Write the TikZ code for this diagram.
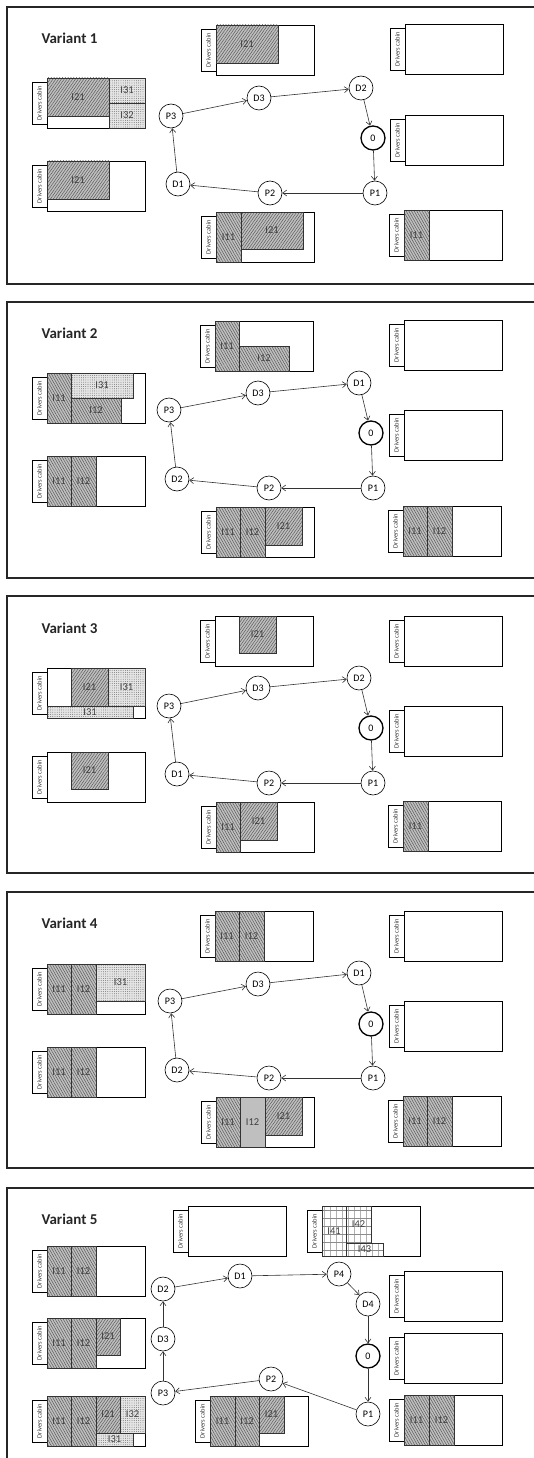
\documentclass[tikz,border=0pt]{standalone}
\usepackage{fontspec}
\setmainfont{Carlito}
\usetikzlibrary{patterns.meta, arrows.meta}

\newcommand{\truck}[4]{%
  \begin{scope}[shift={(#2,#3)}]
    \draw[body] (0,0) rectangle (98,50);
    \node[cabin] (#1) at (-7.5,25) {Drivers cabin};
    #4
  \end{scope}}
\newcommand{\cell}[7]{%
  \node[cellbox, #6, minimum width=#4pt, minimum height=#5pt] (#1) at (#2,#3) {#7};}

\begin{document}
\begin{tikzpicture}[x=1pt, y=-1pt,
    panel/.style={draw=black!85, line width=2pt},
    body/.style={draw=black, fill=white, line width=0.7pt},
    cabin/.style={draw=black, fill=white, line width=0.6pt, rotate=90,
                  minimum width=42pt, minimum height=15pt, inner sep=0pt,
                  font=\fontsize{6.5}{7}\selectfont, text=black!80},
    cellbox/.style={draw=black!80, line width=0.8pt, anchor=north west,
                    outer sep=0pt, inner sep=0pt,
                    font=\fontsize{10.5}{12}\selectfont, text=black!75},
    grpone/.style={preaction={fill=black!25},
                   pattern={Lines[angle=-60, distance=2.3pt, line width=0.5pt]},
                   pattern color=black!65},
    grptwo/.style={preaction={fill=black!25},
                   pattern={Lines[angle=55, distance=2.3pt, line width=0.5pt]},
                   pattern color=black!65},
    grpthree/.style={preaction={fill=black!10},
                     pattern={Dots[distance=2.2pt, radius=0.4pt]},
                     pattern color=black!70},
    grpfour/.style={preaction={fill=white},
                    preaction={pattern={Lines[angle=90, distance=6pt, line width=0.4pt]},
                               pattern color=black!30},
                    pattern={Lines[angle=0, distance=8pt, line width=0.4pt]},
                    pattern color=black!45},
    grpflat/.style={fill=black!25},
    variant/.style={anchor=west, font=\bfseries\fontsize{15}{18}\selectfont, text=black!85},
    stopnode/.style={circle, draw=black, fill=white, line width=0.6pt,
                     minimum size=24pt, inner sep=0pt, font=\fontsize{10}{12}\selectfont},
    depot/.style={stopnode, line width=1.3pt},
    arrow/.style={->, >={Straight Barb[length=4pt, width=6pt]}, draw=black!80, line width=0.6pt}
]
\useasboundingbox (0,0) rectangle (534,1458);

\foreach \top/\bot in {7/284, 302/578, 596/873, 892/1168}
  \draw[panel] (534,\top) -- (7,\top) -- (7,\bot) -- (534,\bot);
\draw[panel] (534,1188) -- (7,1188) -- (7,1458);

% Variant 1
\begin{scope}[shift={(0,7)}, name prefix=v1-]
\node[variant] (title) at (38,31) {Variant 1};
\truck{tm}{216}{18}{\cell{tm-i21}{0}{0}{62}{38}{grptwo}{I21}}
\truck{tr}{405}{17}{}
\truck{tl}{47}{71}{\cell{tl-i21}{0}{0}{62}{38}{grptwo}{I21}
  \cell{tl-i31}{62}{0}{36}{25}{grpthree}{I31}\cell{tl-i32}{62}{25}{36}{25}{grpthree}{I32}}
\truck{ll}{47}{154}{\cell{ll-i21}{0}{0}{62}{38}{grptwo}{I21}}
\truck{bm}{216}{205}{\cell{bm-i11}{0}{0}{25}{50}{grpone}{I11}\cell{bm-i21}{25}{0}{62}{37}{grptwo}{I21}}
\truck{rm}{405}{108}{}
\truck{br}{404}{203}{\cell{br-i11}{0}{0}{25}{50}{grpone}{I11}}

\node[stopnode] (p3) at (171,109) {P3};
\node[stopnode] (d3) at (259,91) {D3};
\node[stopnode] (d2) at (361,81) {D2};
\node[depot] (n0) at (373,131) {0};
\node[stopnode] (p1) at (375,186) {P1};
\node[stopnode] (p2) at (270,186) {P2};
\node[stopnode] (d1) at (178,177) {D1};
\draw[arrow] (p3) -- (d3);
\draw[arrow] (d3) -- (d2);
\draw[arrow] (d2) -- (n0);
\draw[arrow] (n0) -- (p1);
\draw[arrow] (p1) -- (p2);
\draw[arrow] (p2) -- (d1);
\draw[arrow] (d1) -- (p3);
\end{scope}

% Variant 2
\begin{scope}[shift={(0,302)}, name prefix=v2-]
\node[variant] (title) at (38,31) {Variant 2};
\truck{tm}{215}{19}{\cell{tm-i11}{0}{0}{24}{50}{grpone}{I11}\cell{tm-i12}{24}{25}{50}{25}{grpone}{I12}}
\truck{tr}{404}{18}{}
\truck{tl}{47}{71}{\cell{tl-i11}{0}{0}{24}{50}{grpone}{I11}
  \cell{tl-i31}{24}{0}{62}{25}{grpthree}{I31}\cell{tl-i12}{24}{25}{50}{25}{grpone}{I12}}
\truck{ll}{47}{154}{\cell{ll-i11}{0}{0}{24}{50}{grpone}{I11}\cell{ll-i12}{24}{0}{25}{50}{grpone}{I12}}
\truck{bm}{216}{205}{\cell{bm-i11}{0}{0}{24}{50}{grpone}{I11}\cell{bm-i12}{24}{0}{25}{50}{grpone}{I12}
  \cell{bm-i21}{49}{0}{37}{38}{grptwo}{I21}}
\truck{rm}{404}{108}{}
\truck{br}{403}{204}{\cell{br-i11}{0}{0}{24}{50}{grpone}{I11}\cell{br-i12}{24}{0}{25}{50}{grpone}{I12}}

\node[stopnode] (p3) at (169,108) {P3};
\node[stopnode] (d3) at (258,91) {D3};
\node[stopnode] (d1) at (359,81) {D1};
\node[depot] (n0) at (371,131) {0};
\node[stopnode] (p1) at (373,186) {P1};
\node[stopnode] (p2) at (269,186) {P2};
\node[stopnode] (d2) at (177,177) {D2};
\draw[arrow] (p3) -- (d3);
\draw[arrow] (d3) -- (d1);
\draw[arrow] (d1) -- (n0);
\draw[arrow] (n0) -- (p1);
\draw[arrow] (p1) -- (p2);
\draw[arrow] (p2) -- (d2);
\draw[arrow] (d2) -- (p3);
\end{scope}

% Variant 3
\begin{scope}[shift={(0,597)}, name prefix=v3-]
\node[variant] (title) at (38,31) {Variant 3};
\truck{tm}{215}{19}{\cell{tm-i21}{24}{0}{37}{37}{grptwo}{I21}}
\truck{tr}{404}{19}{}
\truck{tl}{47}{71}{\cell{tl-i21}{24}{0}{37}{38}{grptwo}{I21}
  \cell{tl-i31a}{61}{0}{37}{38}{grpthree}{I31}\cell{tl-i31b}{0}{38}{86}{12}{grpthree}{I31}}
\truck{ll}{47}{155}{\cell{ll-i21}{24}{0}{37}{37}{grptwo}{I21}}
\truck{bm}{216}{205}{\cell{bm-i11}{0}{0}{24}{50}{grpone}{I11}\cell{bm-i21}{24}{0}{37}{38}{grptwo}{I21}}
\truck{rm}{404}{109}{}
\truck{br}{403}{204}{\cell{br-i11}{0}{0}{25}{50}{grpone}{I11}}

\node[stopnode] (p3) at (169,109) {P3};
\node[stopnode] (d3) at (258,91) {D3};
\node[stopnode] (d2) at (359,81) {D2};
\node[depot] (n0) at (371,131) {0};
\node[stopnode] (p1) at (373,186) {P1};
\node[stopnode] (p2) at (269,186) {P2};
\node[stopnode] (d1) at (177,177) {D1};
\draw[arrow] (p3) -- (d3);
\draw[arrow] (d3) -- (d2);
\draw[arrow] (d2) -- (n0);
\draw[arrow] (n0) -- (p1);
\draw[arrow] (p1) -- (p2);
\draw[arrow] (p2) -- (d1);
\draw[arrow] (d1) -- (p3);
\end{scope}

% Variant 4
\begin{scope}[shift={(0,892)}, name prefix=v4-]
\node[variant] (title) at (38,31) {Variant 4};
\truck{tm}{215}{19}{\cell{tm-i11}{0}{0}{24}{50}{grpone}{I11}\cell{tm-i12}{24}{0}{25}{50}{grpone}{I12}}
\truck{tr}{404}{19}{}
\truck{tl}{47}{72}{\cell{tl-i11}{0}{0}{24}{50}{grpone}{I11}\cell{tl-i12}{24}{0}{25}{50}{grpone}{I12}
  \cell{tl-i31}{49}{0}{49}{37}{grpthree}{I31}}
\truck{ll}{47}{155}{\cell{ll-i11}{0}{0}{24}{50}{grpone}{I11}\cell{ll-i12}{24}{0}{25}{50}{grpone}{I12}}
\truck{bm}{216}{205}{\cell{bm-i11}{0}{0}{24}{50}{grpone}{I11}\cell{bm-i12}{24}{0}{25}{50}{grpflat}{I12}
  \cell{bm-i21}{49}{0}{37}{38}{grptwo}{I21}}
\truck{rm}{404}{109}{}
\truck{br}{403}{204}{\cell{br-i11}{0}{0}{24}{50}{grpone}{I11}\cell{br-i12}{24}{0}{25}{50}{grpone}{I12}}

\node[stopnode] (p3) at (170,109) {P3};
\node[stopnode] (d3) at (258,92) {D3};
\node[stopnode] (d1) at (359,81) {D1};
\node[depot] (n0) at (371,132) {0};
\node[stopnode] (p1) at (373,186) {P1};
\node[stopnode] (p2) at (269,186) {P2};
\node[stopnode] (d2) at (177,178) {D2};
\draw[arrow] (p3) -- (d3);
\draw[arrow] (d3) -- (d1);
\draw[arrow] (d1) -- (n0);
\draw[arrow] (n0) -- (p1);
\draw[arrow] (p1) -- (p2);
\draw[arrow] (p2) -- (d2);
\draw[arrow] (d2) -- (p3);
\end{scope}

% Variant 5
\begin{scope}[shift={(0,1188)}, name prefix=v5-]
\node[variant] (title) at (38,31) {Variant 5};
\truck{la}{47}{58}{\cell{la-i11}{0}{0}{24}{50}{grpone}{I11}\cell{la-i12}{24}{0}{25}{50}{grpone}{I12}}
\truck{lb}{47}{130}{\cell{lb-i11}{0}{0}{24}{50}{grpone}{I11}\cell{lb-i12}{24}{0}{25}{50}{grpone}{I12}
  \cell{lb-i21}{49}{0}{24}{37}{grptwo}{I21}}
\truck{lc}{47}{208}{\cell{lc-i11}{0}{0}{24}{50}{grpone}{I11}\cell{lc-i12}{24}{0}{25}{50}{grpone}{I12}
  \cell{lc-i21}{49}{0}{24}{37}{grptwo}{I21}\cell{lc-i32}{73}{0}{25}{37}{grpthree}{I32}
  \cell{lc-i31}{49}{37}{37}{13}{grpthree}{I31}}
\truck{tm}{188}{18}{}
\truck{tr}{322}{18}{\cell{tr-i41}{0}{0}{24}{50}{grpfour}{I41}\cell{tr-i42}{24}{0}{25}{37}{grpfour}{I42}
  \cell{tr-i43}{24}{37}{37}{13}{grpfour}{I43}}
\truck{ra}{404}{83}{}
\truck{rb}{404}{145}{}
\truck{bm}{210}{208}{\cell{bm-i11}{0}{0}{25}{50}{grpone}{I11}\cell{bm-i12}{25}{0}{24}{50}{grpone}{I12}
  \cell{bm-i21}{49}{0}{25}{37}{grptwo}{I21}}
\truck{rc}{404}{207}{\cell{rc-i11}{0}{0}{25}{50}{grpone}{I11}\cell{rc-i12}{25}{0}{25}{50}{grpone}{I12}}

\node[stopnode] (d2) at (163,101) {D2};
\node[stopnode] (d1) at (240,88) {D1};
\node[stopnode] (p4) at (339,86) {P4};
\node[stopnode] (d4) at (368,116) {D4};
\node[depot] (n0) at (368,168) {0};
\node[stopnode] (p1) at (368,226) {P1};
\node[stopnode] (p2) at (271,191) {P2};
\node[stopnode] (p3) at (163,205) {P3};
\node[stopnode] (d3) at (163,151) {D3};
\draw[arrow] (d2) -- (d1);
\draw[arrow] (d1) -- (p4);
\draw[arrow] (p4) -- (d4);
\draw[arrow] (d4) -- (n0);
\draw[arrow] (n0) -- (p1);
\draw[arrow] (p1) -- (p2);
\draw[arrow] (p2) -- (p3);
\draw[arrow] (p3) -- (d3);
\draw[arrow] (d3) -- (d2);
\end{scope}
\end{tikzpicture}
\end{document}
